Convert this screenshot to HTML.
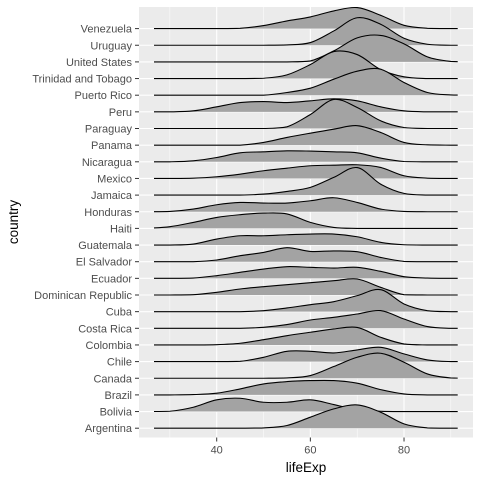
<!DOCTYPE html>
<html><head><meta charset="utf-8"><style>
html,body{margin:0;padding:0;background:#fff;}
svg{display:block;font-family:"Liberation Sans",Arial,sans-serif;}
</style></head><body>
<svg id="chart" width="480" height="480" viewBox="0 0 480 480" xmlns="http://www.w3.org/2000/svg">
<rect x="139" y="7" width="334" height="430.5" fill="#ebebeb"/>
<g id="grid"></g>
<defs><clipPath id="clipx"><rect x="154" y="0" width="303.7" height="480"/></clipPath></defs>
<g id="ridges" clip-path="url(#clipx)"></g>
<g id="yaxis"></g>
<g id="xaxis"></g>
<text x="306" y="472" font-size="13.5" text-anchor="middle" fill="#000">lifeExp</text>
<text transform="translate(18,222) rotate(-90)" font-size="13.5" text-anchor="middle" fill="#000">country</text>
</svg>
<script>
const countries = ["Argentina","Bolivia","Brazil","Canada","Chile","Colombia","Costa Rica","Cuba","Dominican Republic","Ecuador","El Salvador","Guatemala","Haiti","Honduras","Jamaica","Mexico","Nicaragua","Panama","Paraguay","Peru","Puerto Rico","Trinidad and Tobago","United States","Uruguay","Venezuela"];
const gridLifeExp = [25,30,35,40,45,50,55,60,65,70,75,80,85,90,95];
const densArgentina = [0,0,0,0,0,0.3,2.7,11,19.3,23.3,16,4.3,0.3,0,0];
const densBolivia = [0,0.3,4.3,11.7,13.3,9.3,9.3,11.7,7,1.7,0.3,0,0,0,0];
const densBrazil = [0,0,0.3,1.7,6,11,13.3,14.3,14.3,11.7,5.3,1,0,0,0];
const densCanada = [0,0,0,0,0,0,0.3,2.7,11.7,21,25,16,4.3,0.3,0];
const densChile = [0,0,0,0,0.3,4.3,10.3,10.3,8.7,11.7,14.3,7.7,1.7,0,0];
const densColombia = [0,0,0,0.3,1.7,5.3,9.3,12.7,16,17.5,7.7,1,0,0,0];
const densCostaRica = [0,0,0,0,0,1,3.7,8.3,11,14.3,17.7,9.3,1.7,0,0];
const densCuba = [0,0,0,0,0,1,3.7,7,10,16,22,7.7,1,0,0];
const densDominicanRepublic = [0,0,0.3,2.7,6,8.3,10.3,12.3,14.3,16,7.7,0.3,0,0,0];
const densEcuador = [0,0,0.3,2.7,6,9.3,11.7,11,10.3,11,7,1.7,0.3,0,0];
const densElSalvador = [0,0,0,1.7,6,9.3,14,10.3,10.8,10,4.3,0.3,0,0,0];
const densGuatemala = [0,0,1,6,9.3,9.3,10.3,11,11,8.3,2.7,0.3,0,0,0];
const densHaiti = [0,1.7,6,11,13.7,15.3,14.5,6,1,0,0,0,0,0,0];
const densHonduras = [0,0.3,2.7,7,9.3,8.7,8.7,11,14,9.3,2.7,0.3,0,0,0];
const densJamaica = [0,0,0,0,0,1,3.7,7.7,17.7,27.5,11,1.7,0,0,0];
const densMexico = [0,0,0.3,1.7,4.3,7.7,10.3,12.7,13.3,13.7,11,2.7,0.3,0,0];
const densNicaragua = [0,0,1,4.3,9,10,11,10.7,10,9,3.7,0.3,0,0,0];
const densPanama = [0,0,0,0,0,2.7,7.7,12,16,19.5,12.7,2.7,0.3,0,0];
const densParaguay = [0,0,0,0,0,0,1.7,14,29,21,7.7,1,0,0,0];
const densPeru = [0,0,1,5,9.3,10.3,9.3,11,13,11,5,1,0,0,0];
const densPuertoRico = [0,0,0,0,0,0,2.7,7,16,24,26,12.7,2.7,0.3,0];
const densTrinidad = [0,0,0,0,0,0.3,3.7,14,27,24,9,1.7,0,0,0];
const densUnitedStates = [0,0,0,0,0,0,0,1,11,24,26.5,18,5,0.5,0];
const densUruguay = [0,0,0,0,0,0,0.3,2.7,14.3,27.5,21,7,1,0,0];
const densVenezuela = [0,0,0,0,0.3,3,7.7,11.7,17.7,21,13.3,3.3,0.3,0,0];
const xTicks = [40,60,80];
const xMinor = [30,50,70,90];

const dens = [densArgentina,densBolivia,densBrazil,densCanada,densChile,densColombia,densCostaRica,densCuba,densDominicanRepublic,densEcuador,densElSalvador,densGuatemala,densHaiti,densHonduras,densJamaica,densMexico,densNicaragua,densPanama,densParaguay,densPeru,densPuertoRico,densTrinidad,densUnitedStates,densUruguay,densVenezuela];
const NS="http://www.w3.org/2000/svg";
function xs(v){return 216.7+(v-40)*4.683;}
function ys(i){return 428.2-i*16.65;}
function mk(tag,attrs,parent){const e=document.createElementNS(NS,tag);for(const k in attrs)e.setAttribute(k,attrs[k]);parent.appendChild(e);return e;}
const grid=document.getElementById('grid');
xMinor.forEach(v=>{const l=mk('line',{x1:xs(v),x2:xs(v),y1:7,y2:437.5,stroke:'#fff','stroke-width':0.5},grid);

});
xTicks.forEach(v=>{const l=mk('line',{x1:xs(v),x2:xs(v),y1:7,y2:437.5,stroke:'#fff','stroke-width':1.1},grid);

});
countries.forEach((c,i)=>{const l=mk('line',{x1:139,x2:473,y1:ys(i),y2:ys(i),stroke:'#fff','stroke-width':1.1},grid);

});
function curvePath(pts,base){let d='M'+pts[0][0]+','+pts[0][1];
for(let i=0;i<pts.length-1;i++){const p0=pts[Math.max(0,i-1)],p1=pts[i],p2=pts[i+1],p3=pts[Math.min(pts.length-1,i+2)];
let c1y=Math.min(p1[1]+(p2[1]-p0[1])/6,base),c2y=Math.min(p2[1]-(p3[1]-p1[1])/6,base);
d+=' C'+(p1[0]+(p2[0]-p0[0])/6)+','+c1y+' '+(p2[0]-(p3[0]-p1[0])/6)+','+c2y+' '+p2[0]+','+p2[1];}
return d;}
const ridges=document.getElementById('ridges');
for(let i=countries.length-1;i>=0;i--){
 const b=ys(i);
 const pts=gridLifeExp.map((v,j)=>[xs(v),b-dens[i][j]]);
 const line=curvePath(pts,b);
 const g=mk('g',{},ridges);
 
 
 mk('path',{d:line+' L'+xs(95)+','+b+' L'+xs(25)+','+b+' Z',fill:'#a3a3a3',stroke:'none'},g);
 mk('path',{d:line,fill:'none',stroke:'#000','stroke-width':1.1},g);
}
const ya=document.getElementById('yaxis');
countries.forEach((c,i)=>{
 const t=mk('text',{x:132,y:ys(i)+4,'font-size':11,'text-anchor':'end',fill:'#4d4d4d'},ya);t.textContent=c;
 
 
 const tk=mk('line',{x1:135,x2:139,y1:ys(i),y2:ys(i),stroke:'#333','stroke-width':1},ya);
 
 
});
const xa=document.getElementById('xaxis');
xTicks.forEach(v=>{
 const tk=mk('line',{x1:xs(v),x2:xs(v),y1:437.5,y2:441.5,stroke:'#333','stroke-width':1},xa);
 
 
 const t=mk('text',{x:xs(v),y:453.5,'font-size':11,'text-anchor':'middle',fill:'#4d4d4d'},xa);t.textContent=v;
 
 
});
</script>
</body></html>
